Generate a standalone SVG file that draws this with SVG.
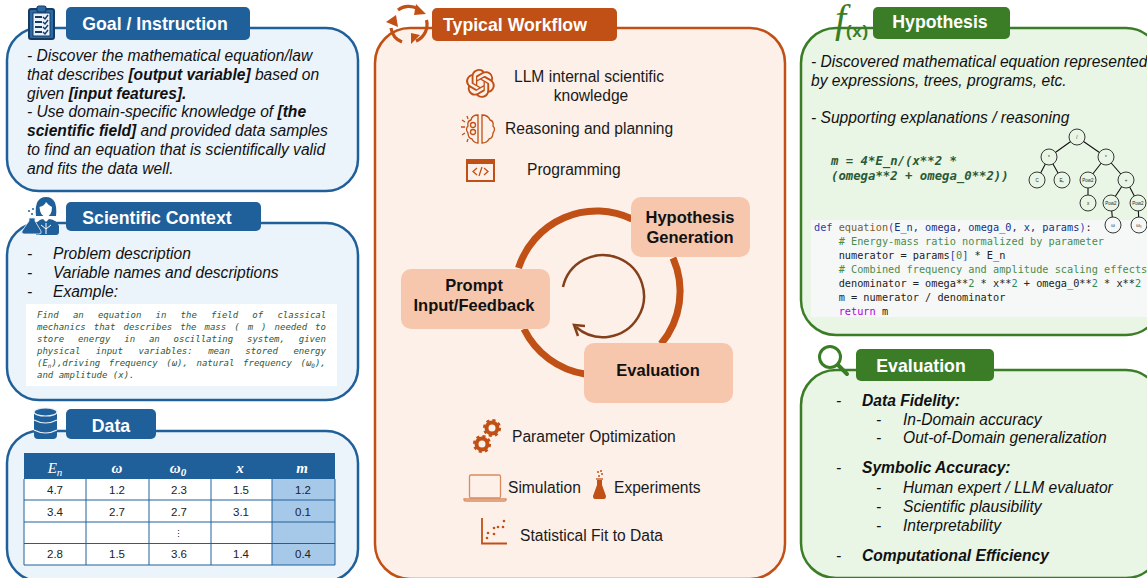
<svg xmlns="http://www.w3.org/2000/svg" width="1147" height="578" viewBox="0 0 1147 578">
<style>
text{font-family:"Liberation Sans",Arial,sans-serif;fill:#111}
.blue{fill:#ebf3fb;stroke:#20609a;stroke-width:2.5}
.org{fill:#fdf0e9;stroke:#c05015;stroke-width:2.5}
.grn{fill:#e9f5e5;stroke:#3b7d27;stroke-width:2.5}
.hb{fill:#20609a}.ho{fill:#c05015}.hg{fill:#3b7d27}
.ht{font-weight:700;font-size:17.7px;fill:#fff;text-anchor:middle}
.it{font-style:italic;font-size:15.6px}
.bi{font-style:italic;font-weight:700;font-size:15.6px}
.wf{font-size:15.6px;fill:#1a1a1a}
.nd{fill:#f6c7ad}
.ndt{font-weight:700;font-size:16.5px;text-anchor:middle}
.ex{font-family:"DejaVu Sans Mono",monospace;font-style:italic;font-size:9px;fill:#2b5b3a}
.eq{font-family:"DejaVu Sans Mono",monospace;font-style:italic;font-weight:700;font-size:12.3px;fill:#2a5a35}
.cd{font-family:"DejaVu Sans Mono",monospace;font-size:10.25px;fill:#222;white-space:pre}
.kw{fill:#1f3fb0}.fn{fill:#795e26}.pr{fill:#14307e}.nm{fill:#2e8b57}.rt{fill:#af00db}
.tc{font-size:11.5px;text-anchor:middle;fill:#222}
.th{font-family:"Liberation Serif",serif;font-style:italic;font-weight:700;font-size:15px;fill:#fff;text-anchor:middle}
.tl{stroke:#20609a;stroke-width:1;fill:none}
.ic{fill:none;stroke:#c05015;stroke-width:1.3}
.tn{fill:#e9f5e5;stroke:#222;stroke-width:.9}
.tt{font-size:4.5px;text-anchor:middle;fill:#222}
.te{stroke:#111;stroke-width:1.1}
</style>
<defs>
<g id="gear"><circle r="5.5" fill="none" stroke="#c05015" stroke-width="4"/><circle r="7.6" fill="none" stroke="#c05015" stroke-width="3" stroke-dasharray="3 3"/></g>
</defs>

<g id="goal">
<rect class="blue" x="7" y="28" width="351" height="163" rx="32"/>
<rect class="hb" x="66" y="7" width="184" height="33" rx="5"/>
<text class="ht" x="155" y="30">Goal / Instruction</text>
<g>
<rect x="29" y="9" width="25" height="30" rx="2" fill="#2a6aa5" stroke="#173a63" stroke-width="2"/>
<rect x="33" y="13" width="17" height="23" fill="#eaf2fa" stroke="#173a63" stroke-width="1"/>
<rect x="37" y="6" width="9" height="6" rx="2" fill="#2a6aa5" stroke="#173a63" stroke-width="1.2"/>
<path d="M35 17h7M35 22h7M35 27h7M35 32h7" stroke="#173a63" stroke-width="1.8"/>
<path d="M43 17l2 2 3-4M43 22l2 2 3-4M43 27l2 2 3-4M43 32l2 2 3-4" fill="none" stroke="#173a63" stroke-width="1.4"/>
</g>
<text class="it" x="27" y="61">- Discover the mathematical equation/law</text>
<text class="it" x="27" y="80">that describes <tspan class="bi">[output variable]</tspan> based on</text>
<text class="it" x="27" y="99">given <tspan class="bi">[input features].</tspan></text>
<text class="it" x="27" y="117">- Use domain-specific knowledge of <tspan class="bi">[the</tspan></text>
<text class="it" x="27" y="136"><tspan class="bi">scientific field]</tspan> and provided data samples</text>
<text class="it" x="27" y="155">to find an equation that is scientifically valid</text>
<text class="it" x="27" y="174">and fits the data well.</text>
</g>

<g id="context">
<rect class="blue" x="7" y="223" width="351" height="177" rx="32"/>
<rect class="hb" x="66" y="202" width="195" height="29" rx="5"/>
<text class="ht" x="157" y="224">Scientific Context</text>
<g fill="#20609a">
<path d="M36 216Q34 197 46 197Q58 197 56 216Z"/>
<path d="M39.500 207q5-1 6.500-5q3 4 6 5q0 9-6 10q-6-1-6.500-10z" fill="#fff"/>
<path d="M36 235V226q1-6 7-7l3 3 3-3q8 1 10 7v6q0 3-3 3z"/>
<path d="M46 223v11M46 229l-5-4M46 229l5-4" stroke="#fff" stroke-width="1" fill="none"/>
<path d="M29 218h6v3l6 10q1 3-2 3H24q-3 0-2-3l7-10z" stroke="#ebf3fb" stroke-width=".8"/>
<circle cx="32" cy="214" r="1"/><circle cx="29" cy="211" r="1"/><circle cx="33" cy="209" r="1"/>
</g>
<text class="it" x="27" y="259">-</text><text class="it" x="53" y="259">Problem description</text>
<text class="it" x="27" y="278">-</text><text class="it" x="53" y="278">Variable names and descriptions</text>
<text class="it" x="27" y="297">-</text><text class="it" x="53" y="297">Example:</text>
<rect x="26" y="304" width="311" height="82" fill="#fff"/>
<text class="ex" x="37" y="318" word-spacing="8.8">Find an equation in the field of classical</text>
<text class="ex" x="37" y="330" word-spacing="2.6">mechanics that describes the mass ( m ) needed to</text>
<text class="ex" x="37" y="342" word-spacing="8.4">store energy in an oscillating system, given</text>
<text class="ex" x="37" y="354" word-spacing="10.1">physical input variables: mean stored energy</text>
<text class="ex" x="37" y="366" word-spacing="3.2">(E<tspan dy="2" font-size="6">n</tspan><tspan dy="-2">),driving frequency (ω), natural frequency (ω</tspan><tspan dy="2" font-size="6">0</tspan><tspan dy="-2">),</tspan></text>
<text class="ex" x="37" y="378">and amplitude (x).</text>
</g>

<g id="data">
<rect class="blue" x="7" y="431" width="351" height="150" rx="32"/>
<rect class="hb" x="66" y="409" width="90" height="30" rx="5"/>
<text class="ht" x="111" y="432">Data</text>
<g fill="#20609a" stroke="#eaf2fa" stroke-width="1.2">
<rect x="34" y="410" width="23" height="29" rx="4" stroke="none"/>
<ellipse cx="45.500" cy="412" rx="11.500" ry="4"/>
<path d="M34 420q11.500 6 23 0M34 430q11.500 6 23 0" fill="none"/>
</g>
<rect x="24" y="453" width="311" height="26" fill="#20609a"/>
<rect x="24" y="479" width="248" height="86" fill="#fff"/>
<rect x="272" y="479" width="63" height="86" fill="#a6c9ea"/>
<path class="tl" d="M24 479V565M86 479V565M149 479V565M211 479V565M272 479V565M335 479V565M24 500H335M24 522H335M24 543.500H335M24 565H335"/>
<text class="th" x="55" y="473" style="font-weight:400">E<tspan dy="3" font-size="11">n</tspan></text>
<text class="th" x="117" y="473">ω</text>
<text class="th" x="178" y="473">ω<tspan dy="3" font-size="11">0</tspan></text>
<text class="th" x="240" y="473">x</text>
<text class="th" x="302" y="473">m</text>
<g>
<text class="tc" x="55" y="494">4.7</text><text class="tc" x="117" y="494">1.2</text><text class="tc" x="179" y="494">2.3</text><text class="tc" x="241" y="494">1.5</text><text class="tc" x="303" y="494">1.2</text>
<text class="tc" x="55" y="516">3.4</text><text class="tc" x="117" y="516">2.7</text><text class="tc" x="179" y="516">2.7</text><text class="tc" x="241" y="516">3.1</text><text class="tc" x="303" y="516">0.1</text>
<text class="tc" x="178" y="537" style="font-size:9px">⋮</text>
<text class="tc" x="55" y="558">2.8</text><text class="tc" x="117" y="558">1.5</text><text class="tc" x="179" y="558">3.6</text><text class="tc" x="241" y="558">1.4</text><text class="tc" x="303" y="558">0.4</text>
</g>
</g>

<g id="workflow">
<rect class="org" x="375" y="28" width="410" height="551" rx="35"/>
<rect class="ho" x="432" y="8" width="185" height="33" rx="5"/>
<text class="ht" x="515" y="31">Typical Workflow</text>
<g fill="none" stroke="#c05015" stroke-width="3.200">
<path d="M398 10A18 18 0 0 1 418 9"/><path d="M426.500 20A18 18 0 0 1 416 41"/><path d="M402 42A18 18 0 0 1 391 28"/>
<path d="M416 4L426 14 414 15ZM420 35L411 44 411 33ZM386 22L396 15 398 27Z" fill="#c05015" stroke="none"/>
</g>
</g>

<g id="connectors">
<path d="M518.500 268A82 82 0 0 1 632 219" fill="none" stroke="#c05015" stroke-width="7"/>
<path d="M673 258A82 82 0 0 1 661 344" fill="none" stroke="#c05015" stroke-width="7"/>
<path d="M524 329A82 82 0 0 0 585 374" fill="none" stroke="#c05015" stroke-width="7"/>
<path d="M563 287A41 41 0 1 1 576 327" fill="none" stroke="#84401a" stroke-width="2.500"/>
<path d="M585 326L574 325 578 336" fill="none" stroke="#84401a" stroke-width="2.500"/>
</g>

<g id="node-hypothesis-generation">
<rect class="nd" x="631" y="197" width="119" height="60" rx="10"/>
<text class="ndt" x="690" y="223">Hypothesis</text><text class="ndt" x="690" y="243">Generation</text>
</g>
<g id="node-prompt">
<rect class="nd" x="401" y="269" width="149" height="60" rx="10"/>
<text class="ndt" x="474" y="291">Prompt</text><text class="ndt" x="474" y="311">Input/Feedback</text>
</g>
<g id="node-evaluation">
<rect class="nd" x="584" y="343" width="149" height="60" rx="10"/>
<text class="ndt" x="658" y="376">Evaluation</text>
</g>

<g id="tools">
<path transform="translate(466 69) scale(1.2)" fill="#c05015" d="M22.2819 9.8211a5.9847 5.9847 0 0 0-.5157-4.9108 6.0462 6.0462 0 0 0-6.5098-2.9A6.0651 6.0651 0 0 0 4.9807 4.1818a5.9847 5.9847 0 0 0-3.9977 2.9 6.0462 6.0462 0 0 0 .7427 7.0966 5.98 5.98 0 0 0 .511 4.9107 6.051 6.051 0 0 0 6.5146 2.9001A5.9847 5.9847 0 0 0 13.2599 24a6.0557 6.0557 0 0 0 5.7718-4.2058 5.9894 5.9894 0 0 0 3.9977-2.9001 6.0557 6.0557 0 0 0-.7475-7.0729zm-9.022 12.6081a4.4755 4.4755 0 0 1-2.8764-1.0408l.1419-.0804 4.7783-2.7582a.7948.7948 0 0 0 .3927-.6813v-6.7369l2.02 1.1686a.071.071 0 0 1 .038.052v5.5826a4.504 4.504 0 0 1-4.4945 4.4944zm-9.6607-4.1254a4.4708 4.4708 0 0 1-.5346-3.0137l.142.0852 4.783 2.7582a.7712.7712 0 0 0 .7806 0l5.8428-3.3685v2.3324a.0804.0804 0 0 1-.0332.0615L9.74 19.9502a4.4992 4.4992 0 0 1-6.1408-1.6464zM2.3408 7.8956a4.485 4.485 0 0 1 2.3655-1.9728V11.6a.7664.7664 0 0 0 .3879.6765l5.8144 3.3543-2.0201 1.1685a.0757.0757 0 0 1-.071 0l-4.8303-2.7865A4.504 4.504 0 0 1 2.3408 7.872zm16.5963 3.8558L13.1038 8.364 15.1192 7.2a.0757.0757 0 0 1 .071 0l4.8303 2.7913a4.4944 4.4944 0 0 1-.6765 8.1042v-5.6772a.79.79 0 0 0-.407-.667zm2.0107-3.0231l-.142-.0852-4.7735-2.7818a.7759.7759 0 0 0-.7854 0L9.409 9.2297V6.8974a.0662.0662 0 0 1 .0284-.0615l4.8303-2.7866a4.4992 4.4992 0 0 1 6.6802 4.66zM8.3065 12.863l-2.02-1.1638a.0804.0804 0 0 1-.038-.0567V6.0742a4.4992 4.4992 0 0 1 7.3757-3.4537l-.142.0805L8.704 5.459a.7948.7948 0 0 0-.3927.6813zm1.0976-2.3654l2.602-1.4998 2.6069 1.4998v2.9994l-2.5974 1.4997-2.6067-1.4997Z"/>
<text class="wf" x="589" y="82" text-anchor="middle">LLM internal scientific</text>
<text class="wf" x="591" y="101" text-anchor="middle">knowledge</text>
<g class="ic">
<path d="M478 143V115q-6 0-7 5q-4 1-3 6q-3 3 0 7q0 5 4 6q2 4 6 4z"/>
<path d="M482 143V115q6 0 8 5q4 1 3 6q3 3 0 7q0 5-4 6q-2 4-7 4z"/>
<circle cx="473" cy="125" r="2.500"/><circle cx="473" cy="132" r="2.500"/>
<path d="M462 120l3 2M461 127h4M462 135l3-2M467 116l1 3M467 142l1-3"/>
</g>
<text class="wf" x="505" y="134">Reasoning and planning</text>
<g>
<rect x="467" y="160" width="27" height="21" fill="none" stroke="#c05015" stroke-width="2"/>
<rect x="467" y="160" width="27" height="4" fill="#c05015"/>
<path d="M477 168l-4 3.500 4 3.500M484 168l4 3.500-4 3.500M482 167l-3 9" fill="none" stroke="#c05015" stroke-width="1.300"/>
</g>
<text class="wf" x="527" y="175">Programming</text>
<use href="#gear" x="492" y="428"/><use href="#gear" x="482" y="444"/>
<text class="wf" x="512" y="442">Parameter Optimization</text>
<g fill="none" stroke="#d98a5f" stroke-width="1.300">
<rect x="469.500" y="475" width="31" height="23" rx="1.500"/>
<path d="M464 499h42v1q0 1-2 1h-38q-2 0-2-1z"/>
</g>
<text class="wf" x="508" y="493">Simulation</text>
<path d="M597 480h5v5l4 11q0 3-2 3h-9q-2 0-2-3l4-11z" fill="#c05015"/>
<path d="M596 479h7" stroke="#c05015" stroke-width="1.300"/>
<g fill="#c05015"><circle cx="599" cy="476" r="1"/><circle cx="602" cy="474" r="1"/><circle cx="598" cy="472" r="1"/><circle cx="601" cy="471" r="1"/></g>
<text class="wf" x="614" y="493">Experiments</text>
<path d="M482 518V543.500H507" fill="none" stroke="#c05015" stroke-width="1.800"/>
<g fill="#c05015"><circle cx="487" cy="538" r="1.300"/><circle cx="488" cy="533" r="1.300"/><circle cx="494" cy="534" r="1.300"/><circle cx="494" cy="528" r="1.300"/><circle cx="498" cy="527" r="1.300"/><circle cx="503" cy="527" r="1.300"/><circle cx="504" cy="521" r="1.300"/></g>
<text class="wf" x="520" y="541">Statistical Fit to Data</text>
</g>

<g id="hypothesis">
<rect class="grn" x="801" y="28" width="360" height="307" rx="35"/>
<rect class="hg" x="873" y="7" width="137" height="32" rx="5"/>
<text class="ht" x="940" y="28">Hypothesis</text>
<text x="835" y="32" style="font-family:'Liberation Serif',serif;font-style:italic;font-size:40px;fill:#3b7d27">f<tspan x="846" y="37" style="font-family:'Liberation Sans',sans-serif;font-style:normal;font-weight:700;font-size:17px;letter-spacing:.7px">(x)</tspan></text>
<text class="it" x="811" y="67">- Discovered mathematical equation represented</text>
<text class="it" x="811" y="86">by expressions, trees, programs, etc.</text>
<text class="it" x="811" y="123">- Supporting explanations / reasoning</text>
<text class="eq" x="831" y="165">m = 4*E_n/(x**2 *</text>
<text class="eq" x="831" y="180">(omega**2 + omega_0**2))</text>
<rect x="811" y="220" width="336" height="97" fill="#f6f8f8"/>
<text class="cd" x="814" y="231"><tspan class="kw">def</tspan> <tspan class="fn">equation</tspan><tspan class="kw">(</tspan><tspan class="pr">E_n, omega, omega_0, x, params</tspan><tspan class="kw">)</tspan>:</text>
<text class="cd" x="838.700" y="245" style="fill:#4b8b4b"># Energy-mass ratio normalized by parameter</text>
<text class="cd" x="838.700" y="259">numerator = params<tspan class="kw">[</tspan><tspan class="nm">0</tspan><tspan class="kw">]</tspan> * E_n</text>
<text class="cd" x="838.700" y="273" style="fill:#4b8b4b"># Combined frequency and amplitude scaling effects</text>
<text class="cd" x="838.700" y="287">denominator = omega**<tspan class="nm">2</tspan> * x**<tspan class="nm">2</tspan> + omega_0**<tspan class="nm">2</tspan> * x**<tspan class="nm">2</tspan></text>
<text class="cd" x="838.700" y="301">m = numerator / denominator</text>
<text class="cd" x="838.700" y="315"><tspan class="rt">return</tspan> m</text>
<g>
<path class="te" d="M1077 137L1049 157M1077 137L1106 157M1049 157L1037 180M1049 157L1062 180M1106 157L1088 180M1106 157L1126 180M1088 180V203M1126 180L1111 203M1126 180L1138 203M1111 203L1113 225M1138 203L1139 225"/>
<circle class="tn" cx="1077" cy="137" r="8"/><text class="tt" x="1077" y="139">/</text>
<circle class="tn" cx="1049" cy="157" r="8"/><text class="tt" x="1049" y="159">*</text>
<circle class="tn" cx="1106" cy="157" r="8"/><text class="tt" x="1106" y="159">*</text>
<circle class="tn" cx="1037" cy="180" r="8"/><text class="tt" x="1037" y="182">C</text>
<circle class="tn" cx="1062" cy="180" r="8"/><text class="tt" x="1062" y="182">Eₙ</text>
<circle class="tn" cx="1088" cy="180" r="8"/><text class="tt" x="1088" y="182">Pow2</text>
<circle class="tn" cx="1126" cy="180" r="8"/><text class="tt" x="1126" y="182">+</text>
<circle class="tn" cx="1088" cy="203" r="8"/><text class="tt" x="1088" y="205">x</text>
<circle class="tn" cx="1111" cy="203" r="8"/><text class="tt" x="1111" y="205">Pow2</text>
<circle class="tn" cx="1138" cy="203" r="8"/><text class="tt" x="1138" y="205">Pow2</text>
<circle class="tn" cx="1113" cy="225" r="8" style="fill:#f6f8f8"/><text class="tt" x="1113" y="227">ω</text>
<circle class="tn" cx="1139" cy="225" r="8" style="fill:#f6f8f8"/><text class="tt" x="1139" y="227">ω₀</text>
</g>
</g>

<g id="evaluation">
<rect class="grn" x="801" y="370" width="360" height="208" rx="35"/>
<rect class="hg" x="856" y="349" width="138" height="32" rx="5"/>
<text class="ht" x="921" y="372">Evaluation</text>
<g fill="none" stroke="#3b7d27" stroke-width="3"><circle cx="830" cy="357" r="10.500"/><path d="M838 365l9 9" stroke-width="4" stroke-linecap="round"/></g>
<text class="it" x="836" y="406">-</text><text class="bi" x="862" y="406">Data Fidelity:</text>
<text class="it" x="876" y="425">-</text><text class="it" x="903" y="425">In-Domain accuracy</text>
<text class="it" x="876" y="443">-</text><text class="it" x="903" y="443">Out-of-Domain generalization</text>
<text class="it" x="836" y="473">-</text><text class="bi" x="862" y="473">Symbolic Accuracy:</text>
<text class="it" x="876" y="493">-</text><text class="it" x="903" y="493">Human expert / LLM evaluator</text>
<text class="it" x="876" y="512">-</text><text class="it" x="903" y="512">Scientific plausibility</text>
<text class="it" x="876" y="531">-</text><text class="it" x="903" y="531">Interpretability</text>
<text class="it" x="836" y="561">-</text><text class="bi" x="862" y="561">Computational Efficiency</text>
</g>
</svg>
